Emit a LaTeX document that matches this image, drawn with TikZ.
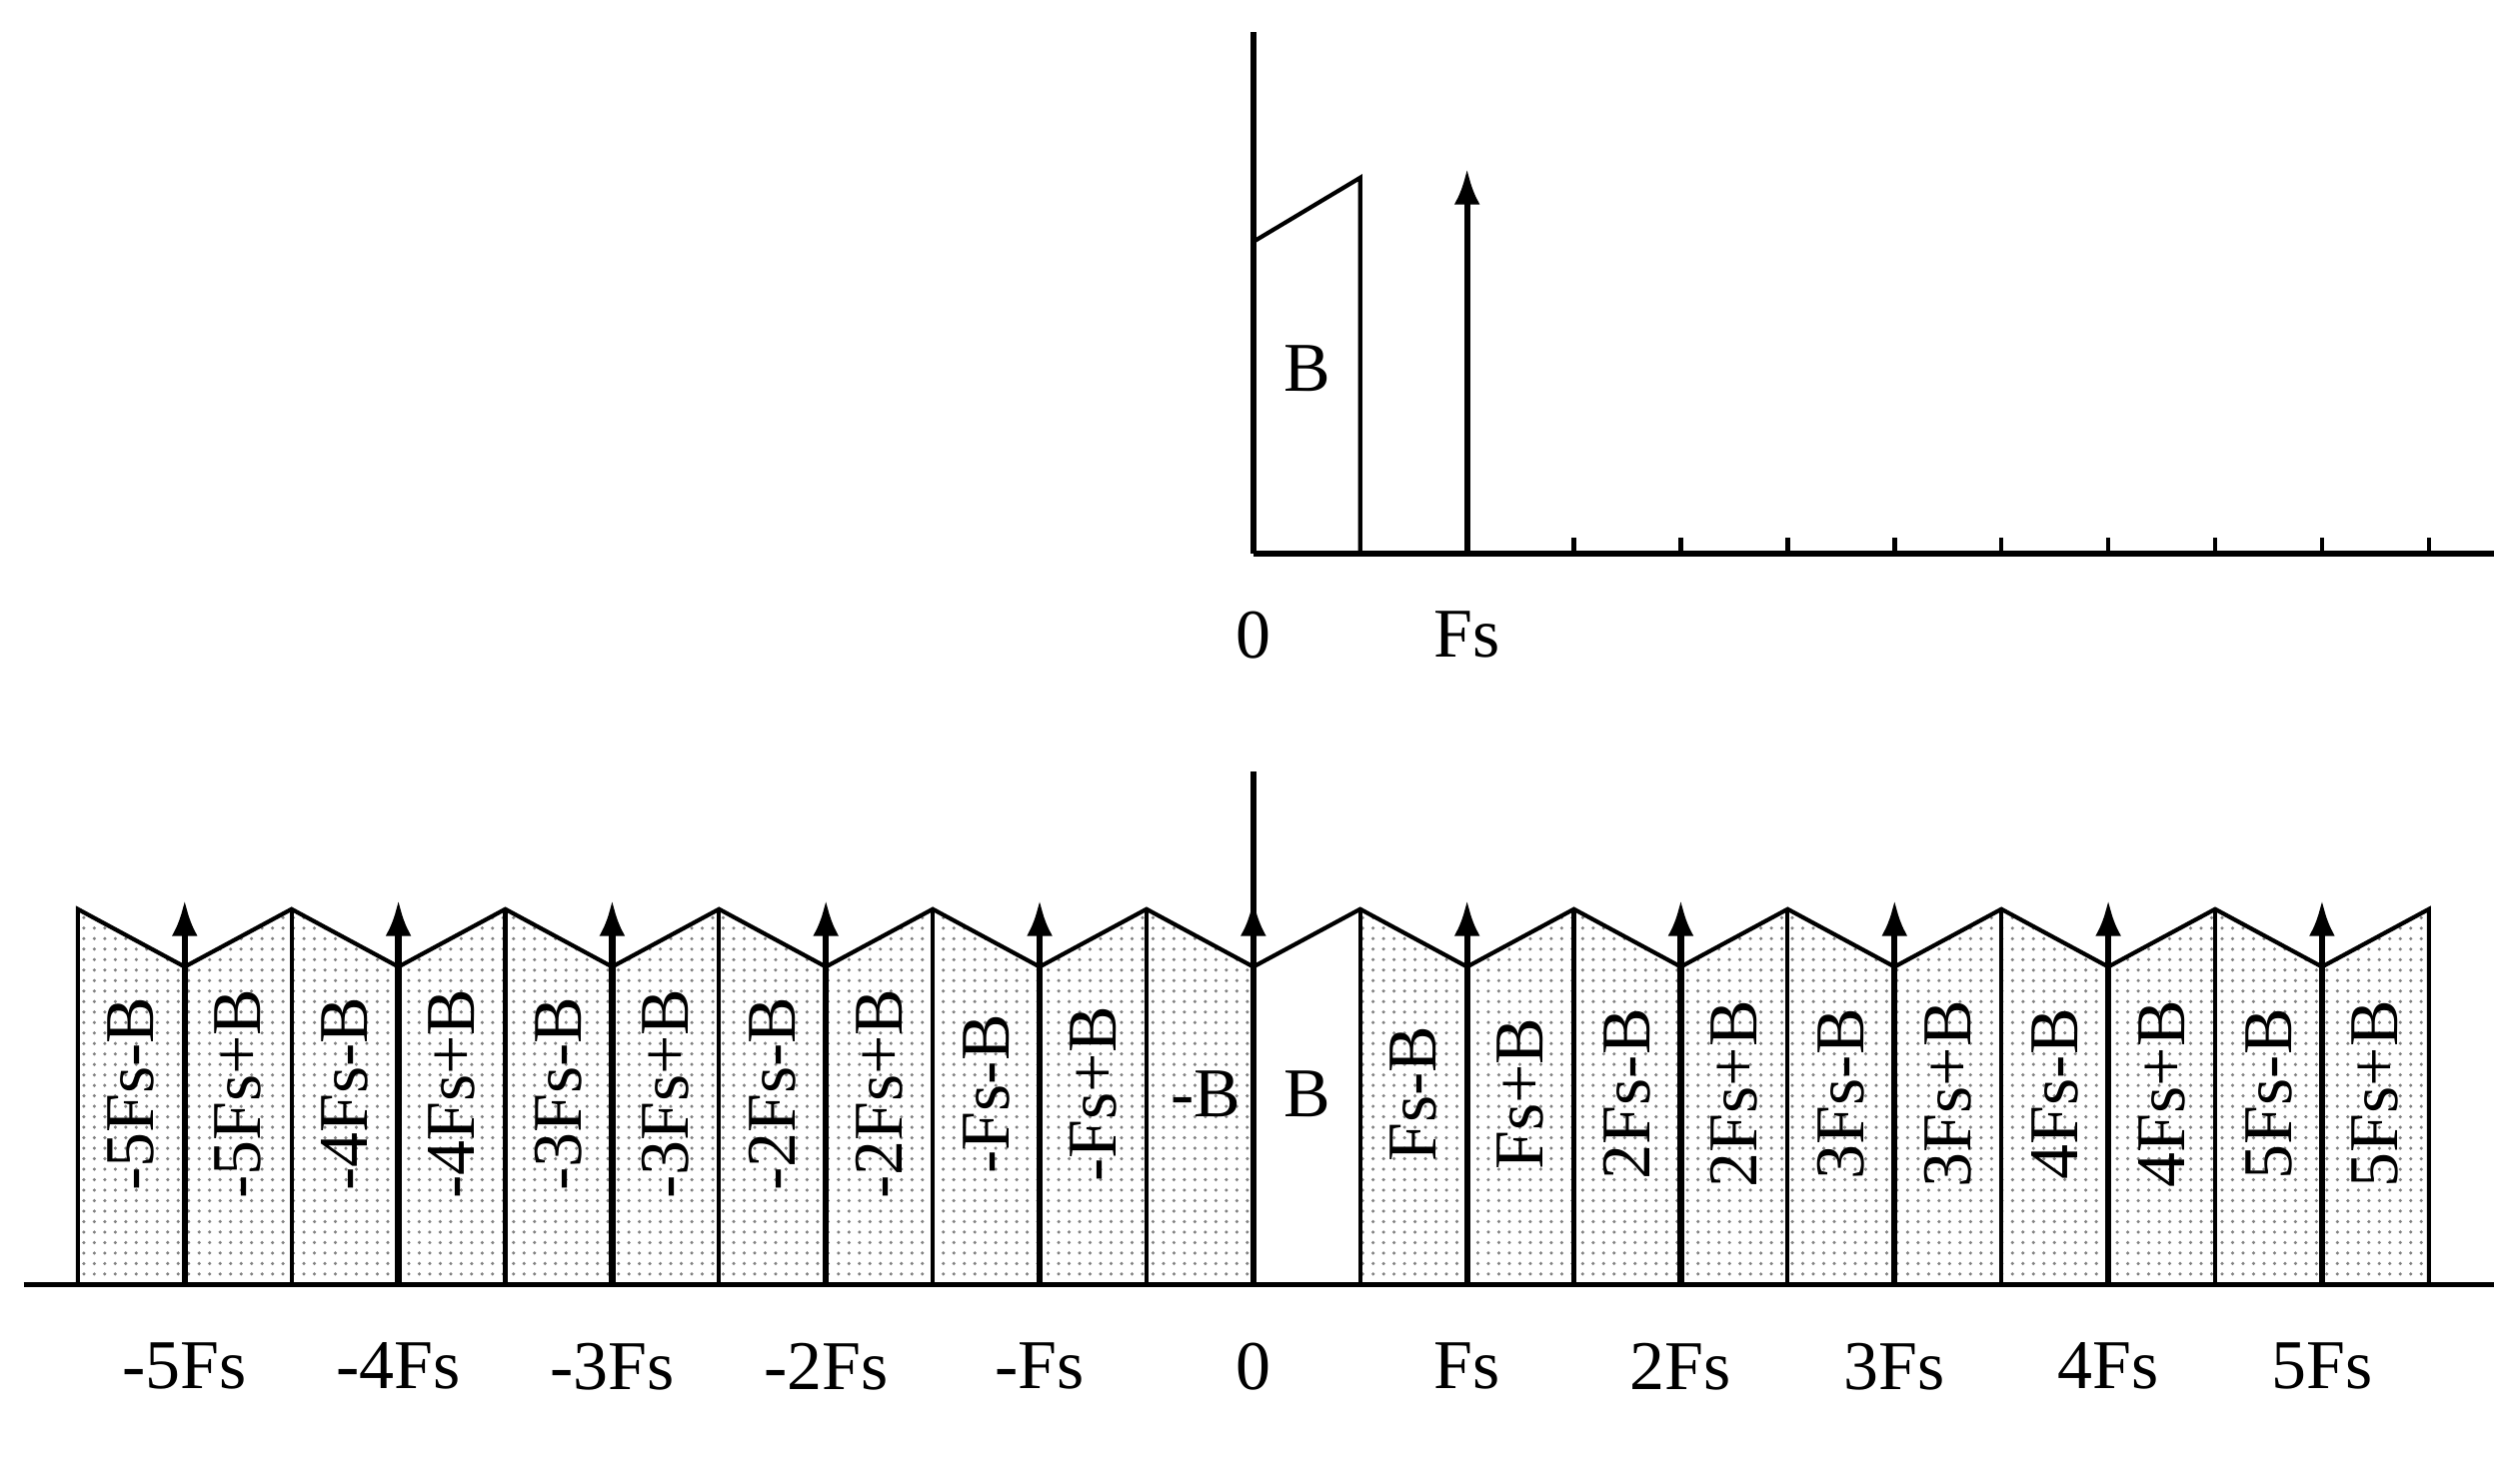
\documentclass[tikz,border=0pt]{standalone}
\usepackage{fontspec}
\setmainfont{Liberation Serif}
\usetikzlibrary{arrows.meta,patterns}

\begin{document}
\begin{tikzpicture}[
        axisline/.style={line width=1.6pt},
        impulse/.style={line width=1.8pt, -{Latex[length=3.6mm,width=2.6mm]}},
        bandedge/.style={line width=1.2pt},
        bandfill/.style={pattern=dots, pattern color=black!50},
        tickmark/.style={line width=1.3pt},
        freq/.style={font=\fontsize{20}{24}\selectfont, inner sep=1pt},
        sband/.style={font=\fontsize{20}{24}\selectfont, rotate=90, inner sep=1pt}
    ]
    \def\fs{2.15}
    \def\hb{1.075}
    \def\hlo{3.2}
    \def\hhi{3.78}
    \def\himp{3.87}

    \useasboundingbox (-12.608,-2.0) rectangle (12.48,12.928);

    % Sampled spectrum — shaded images
    \fill[bandfill] (-5.5*\fs,0) -- (-5.5*\fs,\hhi)
        \foreach \k in {-5,...,-1}{ -- (\k*\fs,\hlo) -- (\k*\fs+\hb,\hhi)}
        -- (0,\hlo) -- (0,0) -- cycle;
    \fill[bandfill] (\hb,0) -- (\hb,\hhi)
        \foreach \k in {1,...,5}{ -- (\k*\fs,\hlo) -- (\k*\fs+\hb,\hhi)}
        -- (5.5*\fs,0) -- cycle;

    % Envelope and band edges
    \draw[bandedge] (-5.5*\fs,0) -- (-5.5*\fs,\hhi)
        \foreach \k in {-5,...,5}{ -- (\k*\fs,\hlo) -- (\k*\fs+\hb,\hhi)}
        -- (5.5*\fs,0);
    \foreach \k in {-5,...,4}
        \draw[bandedge] (\k*\fs+\hb,0) -- (\k*\fs+\hb,\hhi);

    % Axes
    \draw[axisline] (-12.37,0) -- (12.48,0);
    \draw[axisline] (0,0) -- (0,5.168);

    % Sampling impulses
    \foreach \k in {-5,...,5}
        \draw[impulse] (\k*\fs,0) -- (\k*\fs,\himp);

    % Frequency labels
    \foreach \k/\t/\n in {-5/-5Fs/fm5, -4/-4Fs/fm4, -3/-3Fs/fm3, -2/-2Fs/fm2,
            -1/-Fs/fm1, 0/0/fz, 1/Fs/fp1, 2/2Fs/fp2, 3/3Fs/fp3, 4/4Fs/fp4, 5/5Fs/fp5}
        \node[freq] (\n) at (\k*\fs,-0.82) {\t};

    % Band labels
    \foreach \x/\t/\n in {-5.25/-5Fs-B/bm5l, -4.75/-5Fs+B/bm5r, -4.25/-4Fs-B/bm4l,
            -3.75/-4Fs+B/bm4r, -3.25/-3Fs-B/bm3l, -2.75/-3Fs+B/bm3r,
            -2.25/-2Fs-B/bm2l, -1.75/-2Fs+B/bm2r, -1.25/-Fs-B/bm1l, -0.75/-Fs+B/bm1r,
            0.75/Fs-B/bp1l, 1.25/Fs+B/bp1r, 1.75/2Fs-B/bp2l, 2.25/2Fs+B/bp2r,
            2.75/3Fs-B/bp3l, 3.25/3Fs+B/bp3r, 3.75/4Fs-B/bp4l, 4.25/4Fs+B/bp4r,
            4.75/5Fs-B/bp5l, 5.25/5Fs+B/bp5r}
        \node[sband] (\n) at (\x*\fs,1.92) {\t};
    \node[freq] (bneg) at (-0.48,1.92) {-B};
    \node[freq] (bpos) at (0.544,1.92) {B};

    % Original spectrum
    \begin{scope}[yshift=7.36cm]
        \draw[axisline] (0,0) -- (0,5.248);
        \draw[axisline] (0,0) -- (12.48,0);
        \draw[bandedge] (0,3.136) -- (\hb,\hhi) -- (\hb,0);
        \draw[impulse] (\fs,0) -- (\fs,\himp);
        \foreach \k in {3,...,11}
            \draw[tickmark] (\k*\hb,0) -- (\k*\hb,0.16);
        \node[freq] (zero) at (0,-0.82) {0};
        \node[freq] (fsamp) at (\fs,-0.82) {Fs};
        \node[freq] (bw) at (0.544,1.856) {B};
    \end{scope}

\end{tikzpicture}
\end{document}
